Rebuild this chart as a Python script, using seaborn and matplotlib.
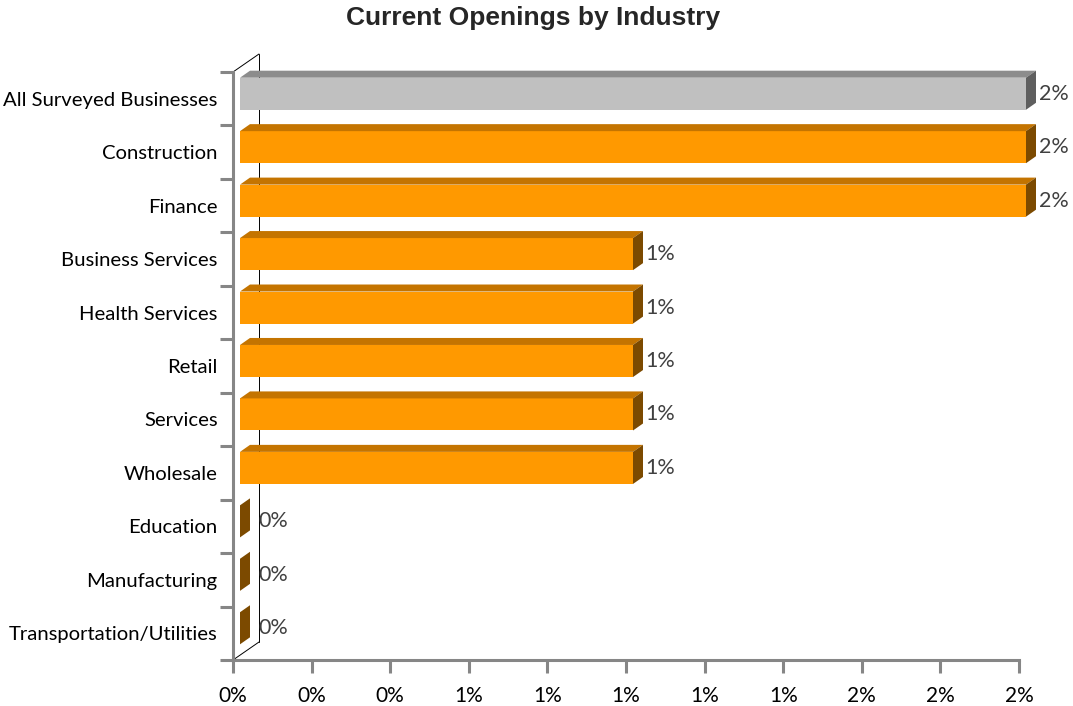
import numpy as np
import pandas as pd
import matplotlib
matplotlib.use("Agg")
import matplotlib.pyplot as plt
import seaborn as sns
from matplotlib.patches import Polygon
from matplotlib.lines import Line2D

# Share of current openings by industry (percent)
industries = [
    "All Surveyed Businesses", "Construction", "Finance", "Business Services",
    "Health Services", "Retail", "Services", "Wholesale", "Education",
    "Manufacturing", "Transportation/Utilities",
]
openings_pct = [2.0, 2.0, 2.0, 1.0, 1.0, 1.0, 1.0, 1.0, 0.0, 0.0, 0.0]
x_ticks = [0.0, 0.2, 0.4, 0.6, 0.8, 1.0, 1.2, 1.4, 1.6, 1.8, 2.0]

front_colors = ["#C0C0C0"] + ["#FF9900"] * 10
top_colors = ["#8C8C8C"] + ["#C47400"] * 10
side_colors = ["#5F5F5F"] + ["#7C4A00"] * 10

label_font = "Lato"
axis_grey = "#868686"
text_grey = "#404040"

sns.set_theme(style="white")
plt.rcParams["font.family"] = [label_font, "DejaVu Sans"]

W, H = 1073, 706
fig = plt.figure(figsize=(W / 100, H / 100), dpi=100)
ax = fig.add_axes([233 / W, (H - 660) / H, 786 / W, 588 / H])

df = pd.DataFrame({"industry": industries, "pct": openings_pct})
sns.barplot(data=df, x="pct", y="industry", hue="industry", palette=front_colors,
            orient="h", width=0.6, saturation=1, legend=False, ax=ax,
            linewidth=0)

ax.set_xlim(0, 2.0)
ax.set_ylim(len(industries) - 0.5, -0.5)


def px_to_data(dx, dy):
    """Convert a display offset in pixels to a data offset."""
    o = ax.transData.transform((0, 0))
    p = ax.transData.inverted().transform((o[0] + dx, o[1] + dy))
    return p[0], p[1]


# front faces sit slightly inside the plot box; depth of each bar
fx, fy = px_to_data(7, 5)
ddx, ddy = px_to_data(10, 7)

for i, p in enumerate(ax.patches[:len(industries)]):
    p.set_clip_on(False)
    p.set_x(p.get_x() + fx)
    p.set_y(p.get_y() + fy)
    x0 = p.get_x()
    x1 = x0 + p.get_width()
    yt = p.get_y()
    yb = yt + p.get_height()
    top = Polygon([(x0, yt), (x1, yt), (x1 + ddx, yt + ddy), (x0 + ddx, yt + ddy)],
                  closed=True, facecolor=top_colors[i], edgecolor="none", clip_on=False)
    side = Polygon([(x1, yt), (x1 + ddx, yt + ddy), (x1 + ddx, yb + ddy), (x1, yb)],
                   closed=True, facecolor=side_colors[i], edgecolor="none", clip_on=False)
    ax.add_patch(top)
    ax.add_patch(side)
    gap = 2.5 if openings_pct[i] > 0 else 8
    ax.annotate(f"{openings_pct[i]:.0f}%", xy=(x1 + ddx, (yt + yb) / 2),
                xytext=(gap, 0), textcoords="offset pixels", ha="left", va="center",
                fontsize=15.5, color=text_grey, annotation_clip=False)

# back wall edges of the 3-D box
wx, wy = px_to_data(26, 18)
ylo, yhi = ax.get_ylim()
for seg in ([(0, yhi), (wx, yhi + wy)], [(wx, yhi + wy), (wx, ylo + wy)],
            [(wx, ylo + wy), (0, ylo)]):
    ax.add_line(Line2D([s[0] for s in seg], [s[1] for s in seg], color="black",
                       linewidth=0.7, clip_on=False, zorder=0.5))

for s in ("top", "right"):
    ax.spines[s].set_visible(False)
for s in ("left", "bottom"):
    ax.spines[s].set_color(axis_grey)
    ax.spines[s].set_linewidth(2.2)

ax.set_xticks(x_ticks)
ax.set_xticklabels([f"{v:.0f}%" for v in x_ticks])
ax.set_yticks(range(len(industries)))
ax.set_yticklabels(industries)
ax.set_yticks(np.arange(-0.5, len(industries), 1.0), minor=True)
ax.tick_params(axis="y", which="major", length=0, pad=11, labelsize=14.6, labelcolor="black")
ax.tick_params(axis="y", which="minor", length=9.5, width=2.2, color=axis_grey, direction="out", left=True)
ax.tick_params(axis="x", which="major", length=9, width=2.2, color=axis_grey, direction="out",
               bottom=True, pad=9.5, labelsize=15, labelcolor="black")
ax.set_xlabel("")
ax.set_ylabel("")

fig.text(533 / W, 1 - 18 / H, "Current Openings by Industry", ha="center", va="center",
         fontsize=19, fontweight="bold", family=["Liberation Sans", "DejaVu Sans"])

fig.savefig("out.png", dpi=100)
